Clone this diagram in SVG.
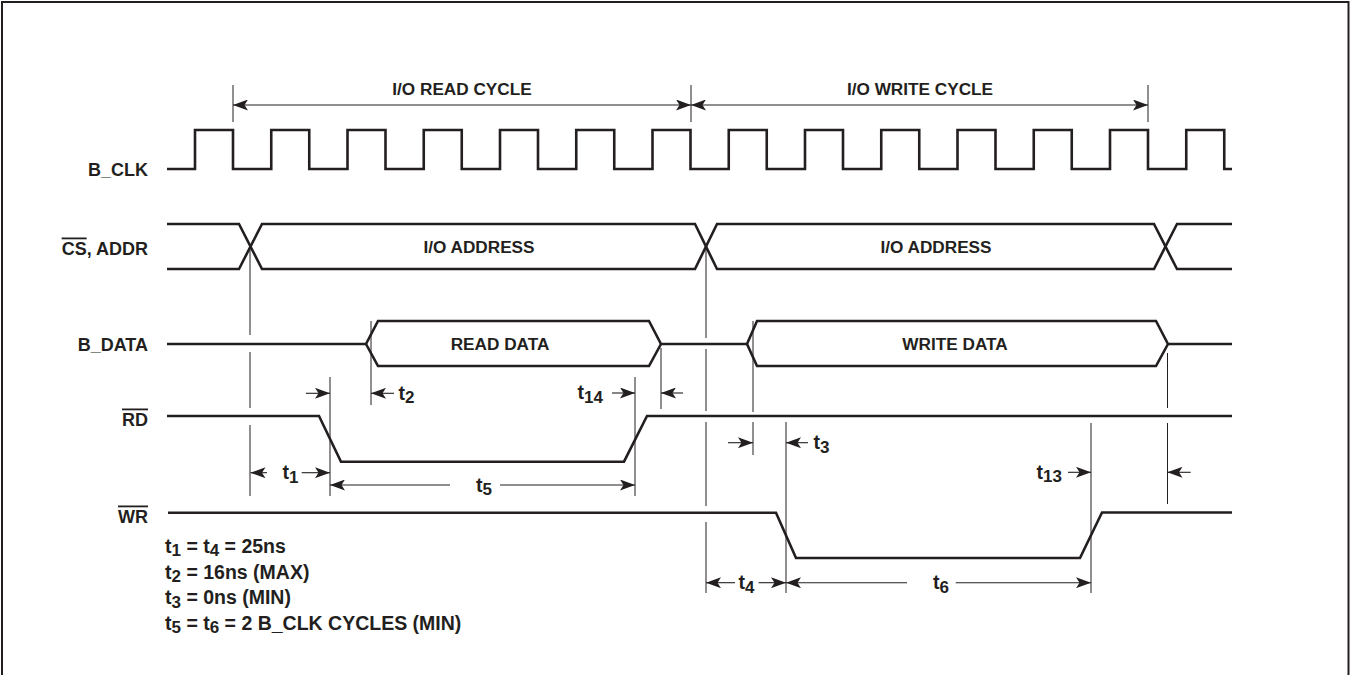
<svg xmlns="http://www.w3.org/2000/svg" width="1351" height="675" viewBox="0 0 1351 675">
<defs>
<marker id="ah" viewBox="0 0 15 11" refX="15" refY="5.5" markerWidth="15" markerHeight="11" markerUnits="userSpaceOnUse" orient="auto-start-reverse">
<path d="M0,0 L15,5.5 L0,11 L3.5,5.5 Z" fill="#231f20"/>
</marker>
<style>
.sig{fill:none;stroke:#231f20;stroke-width:2.6;stroke-linejoin:miter;stroke-linecap:butt}
.ref{fill:none;stroke:#231f20;stroke-width:1}
.dim{fill:none;stroke:#231f20;stroke-width:1.1;marker-end:url(#ah)}
.dim2{fill:none;stroke:#231f20;stroke-width:1.1;marker-start:url(#ah);marker-end:url(#ah)}
text{font-family:"Liberation Sans",Arial,Helvetica,sans-serif;font-weight:bold;fill:#231f20}
.lbl{font-size:18px;text-anchor:end}
.bus{font-size:17.2px;text-anchor:middle}
.t{font-size:19.5px}
.s{font-size:17px}
</style>
</defs>
<rect x="2" y="2" width="1346.5" height="700" fill="#fff" stroke="#231f20" stroke-width="2"/>

<g id="header">
<text class="bus" x="462" y="95">I/O READ CYCLE</text>
<text class="bus" x="920" y="95">I/O WRITE CYCLE</text>
</g>

<g id="b_clk">
<text class="lbl" x="148" y="175.5">B_CLK</text>
<path class="sig" d="M167,169 H195 V130 H233 V169 H271.25 V130 H309.25 V169 H347.5 V130 H385.5 V169 H423.75 V130 H461.75 V169 H500 V130 H538 V169 H576.25 V130 H614.25 V169 H652.5 V130 H690.5 V169 H728.75 V130 H766.75 V169 H805 V130 H843 V169 H881.25 V130 H919.25 V169 H957.5 V130 H995.5 V169 H1033.75 V130 H1071.75 V169 H1110 V130 H1148 V169 H1186.25 V130 H1224.25 V169 H1232"/>
</g>

<g id="cs_addr">
<text class="lbl" x="148" y="254.5"><tspan style="text-decoration:overline">CS</tspan>, ADDR</text>
<path class="sig" d="M167,224 H239 L262,269 H695 L717,224 H1154 L1177,269 H1232"/>
<path class="sig" d="M167,269 H239 L262,224 H695 L717,269 H1154 L1177,224 H1232"/>
<text class="bus" x="479" y="253">I/O ADDRESS</text>
<text class="bus" x="936" y="253">I/O ADDRESS</text>
</g>

<g id="b_data">
<text class="lbl" x="148" y="351">B_DATA</text>
<path class="sig" d="M167,344 H366 L378,321 H649 L661,344 H747 L757,321 H1156 L1168,344 H1232"/>
<path class="sig" d="M366,344 L378,366 H649 L661,344"/>
<path class="sig" d="M747,344 L757,366 H1156 L1168,344"/>
<text class="bus" x="500" y="350">READ DATA</text>
<text class="bus" x="955" y="350">WRITE DATA</text>
</g>

<g id="rd">
<text class="lbl" x="148" y="425.5"><tspan style="text-decoration:overline">RD</tspan></text>
<path class="sig" d="M167,416 H319 L341,461.7 H624 L647,416 H1232"/>
</g>

<g id="wr">
<text class="lbl" x="148" y="522.5"><tspan style="text-decoration:overline">WR</tspan></text>
<path class="sig" d="M168,512.7 H776 L796,558 H1080 L1102,512.5 H1232"/>
</g>

<g id="connectors">
<path class="ref" d="M233,85 V122 M691,85 V122 M1148,85 V122"/>
<line class="dim2" x1="233" y1="105" x2="691" y2="105"/>
<line class="dim2" x1="691" y1="105" x2="1148" y2="105"/>
<path class="ref" d="M250,246.5 V335 M250,352 V408 M250,425 V496
M330,377 V496 M371,321 V405 M635,377 V496 M661,348 V409
M706,246.5 V338 M706,349 V411 M706,422 V506 M706,522 V593
M753,321 V412 M753,422 V455 M786,422 V593 M1091,423 V593
M1167.5,353 V408 M1167.5,423 V504"/>
<line class="dim" x1="306" y1="393.3" x2="330" y2="393.3"/>
<line class="dim" x1="394" y1="393.3" x2="371" y2="393.3"/>
<line class="dim" x1="612" y1="393" x2="635" y2="393"/>
<line class="dim" x1="683" y1="393" x2="661" y2="393"/>
<line class="dim" x1="267" y1="472.7" x2="250.5" y2="472.7"/>
<line class="dim" x1="301.7" y1="472.7" x2="330" y2="472.7"/>
<line class="dim" x1="450" y1="485" x2="330" y2="485"/>
<line class="dim" x1="500" y1="485" x2="635" y2="485"/>
<line class="dim" x1="728" y1="442.7" x2="753" y2="442.7"/>
<line class="dim" x1="808" y1="442.7" x2="786" y2="442.7"/>
<line class="dim" x1="1068" y1="472.3" x2="1091" y2="472.3"/>
<line class="dim" x1="1190.7" y1="472.3" x2="1167.5" y2="472.3"/>
<line class="dim" x1="735" y1="582.7" x2="706" y2="582.7"/>
<line class="dim" x1="758.6" y1="582.7" x2="786" y2="582.7"/>
<line class="dim" x1="907" y1="582.7" x2="786" y2="582.7"/>
<line class="dim" x1="955.7" y1="582.7" x2="1091" y2="582.7"/>
</g>

<g id="timing-labels">
<text class="t" x="398.5" y="399.5">t<tspan class="s" dy="3.5">2</tspan></text>
<text class="t" x="577.5" y="399">t<tspan class="s" dy="3.5">14</tspan></text>
<text class="t" x="282.5" y="479">t<tspan class="s" dy="3.5">1</tspan></text>
<text class="t" x="476" y="491.5">t<tspan class="s" dy="3.5">5</tspan></text>
<text class="t" x="813.5" y="449">t<tspan class="s" dy="3.5">3</tspan></text>
<text class="t" x="1036.5" y="478.5">t<tspan class="s" dy="3.5">13</tspan></text>
<text class="t" x="738.5" y="589">t<tspan class="s" dy="3.5">4</tspan></text>
<text class="t" x="933" y="589">t<tspan class="s" dy="3.5">6</tspan></text>
</g>

<g id="legend">
<text class="t" x="165" y="552.5">t<tspan class="s" dy="3.5">1</tspan><tspan dy="-3.5"> = t</tspan><tspan class="s" dy="3.5">4</tspan><tspan dy="-3.5"> = 25ns</tspan></text>
<text class="t" x="165" y="578.5">t<tspan class="s" dy="3.5">2</tspan><tspan dy="-3.5"> = 16ns (MAX)</tspan></text>
<text class="t" x="165" y="604">t<tspan class="s" dy="3.5">3</tspan><tspan dy="-3.5"> = 0ns (MIN)</tspan></text>
<text class="t" x="165" y="629.5">t<tspan class="s" dy="3.5">5</tspan><tspan dy="-3.5"> = t</tspan><tspan class="s" dy="3.5">6</tspan><tspan dy="-3.5"> = 2 B_CLK CYCLES (MIN)</tspan></text>
</g>
</svg>
